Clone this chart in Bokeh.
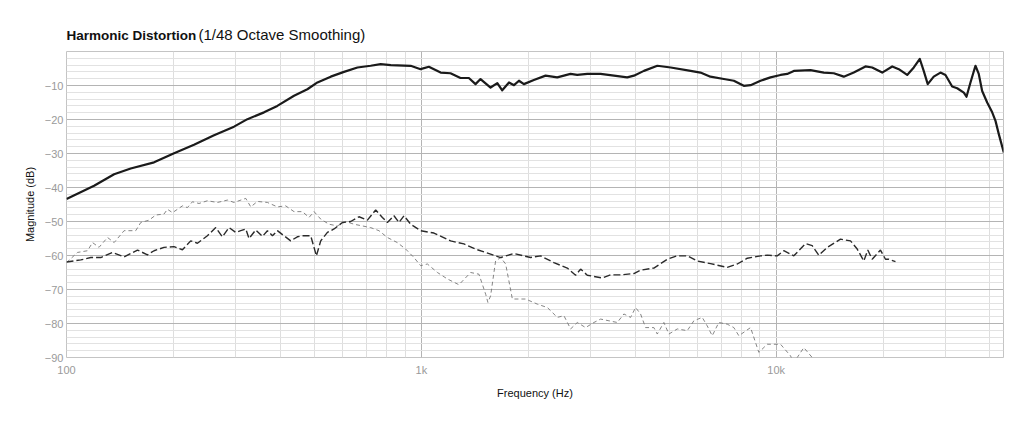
from bokeh.plotting import figure
from bokeh.models import Range1d, FixedTicker, Title
from bokeh.embed import file_html
from bokeh.resources import INLINE

# ---- data ----
fund_freq = [100, 119.6, 136.2, 151.7, 176.5, 201, 228.7, 260.5, 296.5, 323.5, 360.3, 392.7, 437.7, 477.3,
             509.5, 555.4, 605.3, 660.6, 719.6, 768, 820, 933, 995, 1050, 1133, 1208, 1289, 1361, 1421, 1468,
             1567, 1637, 1690, 1766, 1824, 1884, 1945, 2075, 2239, 2415, 2632, 2749, 2935, 3199, 3490, 3803,
             3972, 4238, 4624, 5043, 5738, 6116, 6524, 7118, 7597, 8102, 8467, 9031, 9636, 10283, 10740, 11210,
             12492, 13620, 14530, 15500, 16540, 17846, 18640, 19890, 21230, 22150, 23390, 24420, 25390, 26040,
             26730, 27790, 29030, 29990, 31320, 32360, 33780, 34370, 35270, 36430, 37220, 38050, 39310, 40610,
             41490, 42390, 43780]
fund_db = [-43.4, -39.5, -36.1, -34.4, -32.6, -29.9, -27.4, -24.6, -22.1, -19.9, -17.9, -16.0, -13.0, -11.1,
           -9.1, -7.4, -6.0, -4.7, -4.2, -3.7, -4.0, -4.2, -5.2, -4.5, -6.2, -6.4, -7.8, -7.8, -9.6, -8.1,
           -10.6, -9.3, -11.4, -9.1, -9.9, -8.6, -9.6, -8.4, -7.1, -7.6, -6.6, -6.9, -6.6, -6.6, -7.1, -7.6,
           -7.1, -5.7, -4.2, -4.7, -5.7, -6.2, -7.4, -8.1, -8.6, -10.1, -9.9, -8.6, -7.6, -6.9, -6.6, -5.7,
           -5.5, -6.2, -6.4, -7.4, -6.2, -4.4, -4.7, -6.2, -4.4, -5.2, -6.9, -4.7, -2.2, -5.7,
           -9.6, -7.4, -6.2, -6.9, -10.3, -10.8, -12.1, -13.3, -9.1, -4.2, -6.6, -11.6, -15.0, -17.9,
           -20.4, -24.3, -29.7]

h2_freq = [100, 109.7, 117.1, 124.9, 134.8, 145.3, 158.5, 169.1, 176.5, 188.3, 200.9, 212.2, 223.9, 233.9,
           249.5, 263.4, 275.0, 287.1, 299.9, 309.7, 320.0, 326.9, 341.4, 356.6, 368.3, 380.5, 392.9, 410.2,
           428.3, 447.3, 462.1, 487.7, 506.1, 520.5, 543.6, 567.4, 599.2, 632.2, 667.2, 704.6, 743.5, 776.5,
           802.1, 837.2, 864.8, 893.4, 933, 995, 1085, 1209, 1318, 1438, 1567, 1673, 1823, 2032, 2168, 2363,
           2578, 2721, 2810, 2935, 3236, 3414, 3643, 3971, 4147, 4521, 4932, 5262, 5615, 5992, 6530, 7278,
           7766, 8287, 9031, 9433, 10065, 10505, 11210, 12091, 12631, 13183, 13924, 15175, 16195, 16915,
           17656, 18117, 18640, 19670, 20320, 20760, 21680]
h2_db = [-61.9, -61.3, -60.6, -60.6, -59.1, -60.4, -58.4, -59.8, -58.6, -57.6, -57.4, -58.3, -55.7, -56.4,
         -54.2, -51.8, -54.5, -51.8, -53.2, -52.7, -52.2, -55.0, -52.5, -54.4, -52.7, -54.2, -52.7, -54.2,
         -55.7, -54.5, -54.2, -54.2, -60.1, -55.7, -53.2, -52.2, -50.3, -50.0, -48.6, -49.6, -46.6, -48.8,
         -50.3, -48.3, -50.3, -48.3, -50.8, -52.7, -53.4, -55.7, -56.6, -58.3, -59.6, -60.6, -59.4, -60.6,
         -60.1, -62.1, -63.7, -65.8, -64.0, -65.8, -66.6, -65.7, -65.7, -65.3, -64.3, -63.7, -61.1, -60.1,
         -60.1, -61.6, -62.4, -63.5, -62.5, -60.8, -60.1, -59.9, -60.1, -58.6, -60.1, -56.5, -57.1, -59.9,
         -57.6, -55.2, -55.7, -58.1, -61.6, -58.4, -61.1, -58.4, -61.1, -61.1, -61.8]

h3_freq = [100, 107.4, 114.6, 118.4, 123.5, 130.5, 136.2, 145.3, 156.7, 161.9, 170.9, 178.4, 188.3, 192.5,
           198.9, 212.2, 219.2, 226.4, 236.3, 249.5, 266.3, 284.1, 296.6, 320.0, 330.6, 345.1, 368.3, 392.9,
           414.7, 437.7, 462.1, 482.5, 498.5, 520.5, 549.3, 580.0, 612.2, 645.9, 682.0, 719.7, 759.5, 802.1,
           855.6, 903.1, 953.2, 995.4, 1040, 1110, 1184, 1276, 1377, 1453, 1518, 1540, 1567, 1619, 1673, 1728,
           1805, 1967, 2122, 2265, 2416, 2522, 2634, 2751, 2903, 3064, 3200, 3377, 3566, 3722, 3887, 4015,
           4147, 4284, 4521, 4622, 4824, 4984, 5262, 5615, 5861, 6187, 6391, 6602, 6891, 7278, 7597, 7846,
           8467, 8933, 9433, 10283, 10972, 11210, 11960, 12631, 13330]
h3_db = [-62.1, -59.1, -58.6, -56.2, -57.6, -54.7, -56.2, -52.7, -52.7, -50.3, -49.6, -48.1, -47.8, -46.4,
         -47.4, -45.4, -45.9, -44.2, -44.7, -43.9, -44.4, -43.7, -44.4, -43.2, -45.7, -44.1, -44.4, -45.7,
         -45.4, -47.1, -47.1, -48.8, -47.1, -49.3, -50.8, -51.3, -50.0, -50.8, -51.3, -51.8, -52.7, -54.7,
         -56.2, -58.1, -60.6, -63.0, -62.5, -65.0, -66.9, -68.6, -65.0, -65.5, -71.4, -73.8, -71.9, -61.6,
         -60.6, -62.5, -72.8, -72.8, -74.3, -75.3, -78.2, -77.7, -81.6, -79.7, -81.2, -79.7, -78.7, -79.2,
         -79.7, -77.2, -78.2, -75.3, -77.2, -81.2, -81.2, -83.1, -79.7, -83.1, -81.6, -82.1, -79.2, -78.2,
         -80.7, -83.6, -79.7, -80.2, -81.2, -83.6, -81.2, -88.5, -86.1, -86.1, -89.5, -91.5, -87.1, -90.0,
         -94.0]

x_major = [100, 1000, 10000]
x_labels = {100: "100", 1000: "1k", 10000: "10k"}
x_minor = [200, 300, 400, 500, 600, 700, 800, 900,
           2000, 3000, 4000, 5000, 6000, 7000, 8000, 9000,
           20000, 30000, 40000]
y_major = [-90, -80, -70, -60, -50, -40, -30, -20, -10]
y_minor = list(range(-88, 0, 2))

title_main = "Harmonic Distortion"
title_sub = "(1/48 Octave Smoothing)"
x_title = "Frequency (Hz)"
y_title = "Magnitude (dB)"

FONT = "Liberation Sans"

p = figure(width=1024, height=427, x_axis_type="log",
           x_range=Range1d(100, 43700), y_range=Range1d(-90, 0),
           output_backend="svg", toolbar_location=None,
           min_border_left=66, min_border_right=21, min_border_top=51, min_border_bottom=70)
p.background_fill_color = "white"
p.border_fill_color = "white"
p.outline_line_color = "#c4c4c4"
p.outline_line_width = 1

# title: normal-weight part nearest the frame, bold part pulled down onto the same line
p.add_layout(Title(text=title_sub, text_font=FONT, text_font_size="15px",
                   text_font_style="normal", text_color="#111111",
                   align="left", offset=132, standoff=18), "above")
p.title.text = title_main
p.title.text_font = FONT
p.title.text_font_size = "13.5px"
p.title.text_font_style = "bold"
p.title.text_color = "#111111"
p.title.align = "left"
p.title.standoff = -56

# axes
p.xaxis.ticker = FixedTicker(ticks=x_major, minor_ticks=x_minor)
p.xaxis.major_label_overrides = x_labels
p.yaxis.ticker = FixedTicker(ticks=y_major, minor_ticks=y_minor)
for ax in (p.xaxis[0], p.yaxis[0]):
    ax.axis_line_color = None
    ax.major_tick_line_color = None
    ax.minor_tick_line_color = None
    ax.major_tick_out = 0
    ax.major_tick_in = 0
    ax.minor_tick_out = 0
    ax.minor_tick_in = 0
    ax.major_label_text_font = FONT
    ax.major_label_text_font_size = "11px"
    ax.major_label_text_color = "#9a9a9a"
    ax.axis_label_text_font = FONT
    ax.axis_label_text_font_size = "11px"
    ax.axis_label_text_font_style = "normal"
    ax.axis_label_text_color = "#111111"
p.xaxis.axis_label = x_title
p.yaxis.axis_label = y_title
p.xaxis.major_label_standoff = 6
p.xaxis.axis_label_standoff = 8
p.yaxis.major_label_standoff = 3
p.yaxis.axis_label_standoff = 6

# grids
p.xgrid.grid_line_color = "#b4b4b4"
p.xgrid.minor_grid_line_color = "#dedede"
p.ygrid.grid_line_color = "#b4b4b4"
p.ygrid.minor_grid_line_color = "#e2e2e2"

# series
p.line(h3_freq, h3_db, line_color="#777777", line_width=0.9, line_dash="4 3")
p.line(h2_freq, h2_db, line_color="#2a2a2a", line_width=1.4, line_dash="7 3")
p.line(fund_freq, fund_db, line_color="#1a1a1a", line_width=2.2, line_join="round")

open("out.html", "w").write(file_html(p, INLINE))
